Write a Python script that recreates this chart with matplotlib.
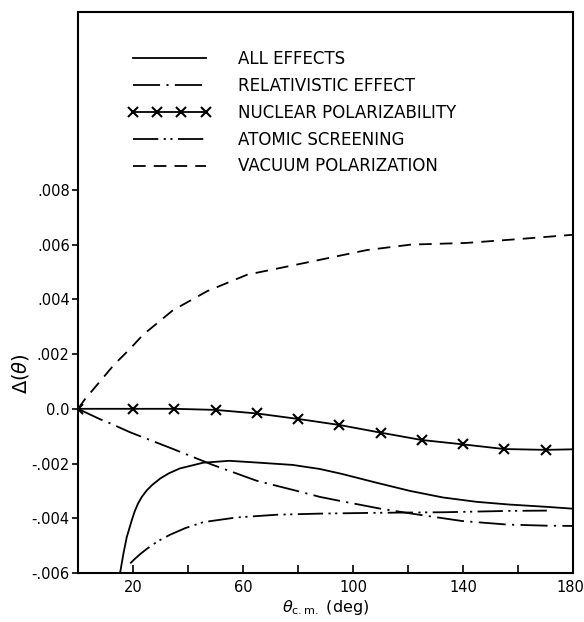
import matplotlib
matplotlib.use("Agg")
import matplotlib.pyplot as plt
import matplotlib.transforms as mtransforms
import numpy as np

# ---- data, y in units of 1e-3 ----
all_x = [15.3, 16.5, 17.7, 19.5, 20.6, 21.8, 23.2, 25, 27, 30, 33, 37, 45.5, 55, 66, 78,
         88, 96, 108.5, 120.7, 132.7, 145, 157, 170, 180]
all_y = [-6.0, -5.3, -4.7, -4.09, -3.75, -3.47, -3.22, -2.98, -2.78, -2.54, -2.36, -2.18,
         -1.97, -1.9, -1.97, -2.05, -2.2, -2.38, -2.7, -3.0, -3.24, -3.4, -3.5, -3.58,
         -3.65]

rel_x = [0, 8, 11, 19, 34.6, 49, 65, 79.6, 88, 96, 110, 122, 139.6, 156, 170, 180]
rel_y = [0, -0.38, -0.5, -0.86, -1.47, -2.05, -2.63, -3.0, -3.22, -3.38, -3.65, -3.84,
         -4.1, -4.23, -4.27, -4.28]

nuc_x = [0, 20, 35, 50, 65, 80, 95, 110, 125, 140, 155, 170, 180]
nuc_y = [0, 0, 0, -0.04, -0.17, -0.37, -0.59, -0.87, -1.14, -1.3, -1.47, -1.5, -1.48]

atom_x = [19, 20.5, 22.5, 25, 29, 33.5, 39, 45.6, 57.7, 72.4, 88, 108.7, 133, 157, 170.5]
atom_y = [-5.65, -5.5, -5.32, -5.12, -4.84, -4.6, -4.36, -4.14, -3.97, -3.87, -3.83,
          -3.8, -3.78, -3.73, -3.72]

vac_x = [0, 2.6, 8, 13, 19, 23.6, 34.5, 47, 61.5, 81, 105, 121, 141, 160, 180]
vac_y = [0, 0.36, 1.0, 1.6, 2.2, 2.7, 3.6, 4.3, 4.9, 5.3, 5.8, 6.0, 6.06, 6.2, 6.36]

labels = ["ALL EFFECTS", "RELATIVISTIC EFFECT", "NUCLEAR POLARIZABILITY",
          "ATOMIC SCREENING", "VACUUM POLARIZATION"]

xticks = [20, 40, 60, 80, 100, 120, 140, 160, 180]
xtick_labels = ["20", "", "60", "", "100", "", "140", "", "180"]
yticks = [-0.006, -0.004, -0.002, 0.0, 0.002, 0.004, 0.006, 0.008]
ytick_labels = ["-.006", "-.004", "-.002", "0.0", ".002", ".004", ".006", ".008"]

scale = 1e-3

fig = plt.figure(figsize=(5.84, 6.22), dpi=100)
ax = fig.add_axes([78/584, 1-573/622, 495/584, 561/622])

lw = 1.3
ax.plot(all_x, np.array(all_y)*scale, color="black", lw=lw, label=labels[0])
ax.plot(rel_x, np.array(rel_y)*scale, color="black", lw=lw,
        linestyle=(0, (15, 3.5, 1.2, 3.5)), label=labels[1])
ax.plot(nuc_x, np.array(nuc_y)*scale, color="black", lw=lw, marker="x",
        markersize=7, markeredgewidth=1.5, markevery=list(range(12)), label=labels[2])
ax.plot(atom_x, np.array(atom_y)*scale, color="black", lw=lw,
        linestyle=(0, (14, 3, 1.2, 2.5, 1.2, 3)), label=labels[3])
ax.plot(vac_x, np.array(vac_y)*scale, color="black", lw=lw,
        linestyle=(0, (7, 4.5)), label=labels[4])

ax.set_xlim(0, 180)
ax.set_ylim(-0.006, 0.0145)
ax.set_xticks(xticks)
ax.set_xticklabels(xtick_labels)
ax.set_yticks(yticks)
ax.set_yticklabels(ytick_labels)
ax.tick_params(axis="x", direction="in", length=6, width=1.2, labelsize=10.5, pad=5)
ax.tick_params(axis="y", direction="out", length=4, width=1.2, labelsize=10.5, pad=2)
for s in ax.spines.values():
    s.set_linewidth(1.5)

# keep the "180" label inside the figure
last = ax.get_xticklabels()[-1]
last.set_transform(last.get_transform() +
                   mtransforms.ScaledTranslation(-3/100, 0, fig.dpi_scale_trans))

ax.set_xlabel(r"$\theta_{\mathrm{c.m.}}$ (deg)", fontsize=11.5, labelpad=2)
ax.set_ylabel(r"$\Delta(\theta)$", fontsize=14)
ax.yaxis.set_label_coords(-0.095, 0.355)

leg = ax.legend(loc="upper left", bbox_to_anchor=(0.1, 0.932), frameon=False,
                fontsize=12, handlelength=5.0, handletextpad=1.6, labelspacing=0.53,
                borderaxespad=0, borderpad=0, numpoints=4)

fig.savefig("out.png", dpi=100)
